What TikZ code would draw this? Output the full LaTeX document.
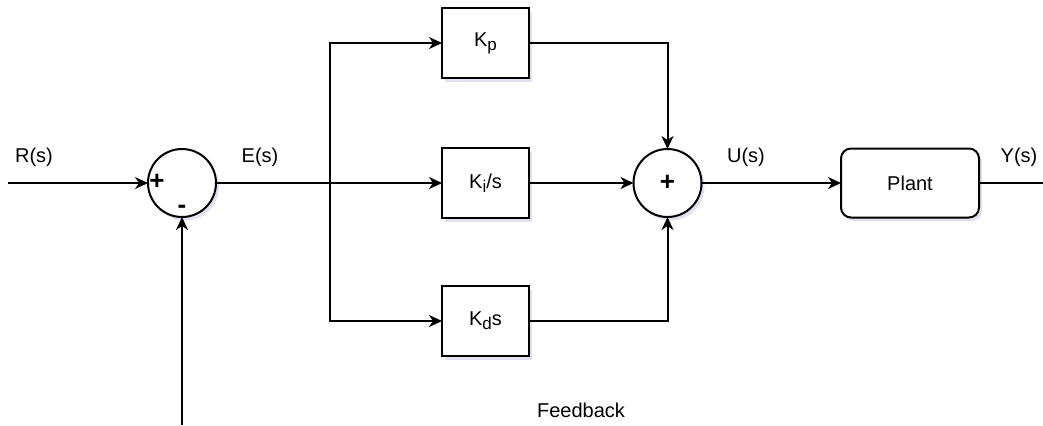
\documentclass[tikz,border=0pt]{standalone}
\usepackage{fontspec}
\setmainfont{Liberation Sans}
\usetikzlibrary{arrows.meta,shadows}
% lowered, slightly reduced subscript
\newcommand{\lowsub}[1]{\raisebox{-2pt}{\fontsize{8.5}{9}\selectfont #1}}
\begin{document}
\begin{tikzpicture}[x=0.5pt,y=-0.5pt,
  line width=1pt,
  font=\fontsize{10}{12}\selectfont,
  arr/.style={-{Stealth[length=6.5pt,width=6pt,inset=2pt]}},
  shade3/.style={drop shadow={shadow xshift=1.5pt,shadow yshift=-1.8pt,opacity=0.18,fill=blue!30!gray}},
  sumnode/.style={circle,draw,fill=white,minimum size=34pt,inner sep=0pt,outer sep=0pt,shade3},
  gainbox/.style={rectangle,draw,fill=white,minimum width=43.5pt,minimum height=35pt,inner sep=0pt,outer sep=0pt,shade3},
  plantbox/.style={rectangle,rounded corners=5pt,draw,fill=white,minimum width=69pt,minimum height=34.5pt,inner sep=0pt,outer sep=0pt,shade3},
  lbl/.style={inner sep=0pt},
  signfont/.style={font=\fontsize{13}{14}\selectfont\bfseries},
  sign/.style={inner sep=0pt,signfont}]
\useasboundingbox (0,0) rectangle (1043,425);

% summing junctions
\node[sumnode] (s1) at (182,183) {};
\node[sumnode,signfont] (s2) at (667.5,183) {+};
\node[sign] (plus1) at (157,182) {+};
\node[sign] (minus1) at (182,209) {-};

% controller branches and plant
\node[gainbox] (kp) at (485.5,43) {K\lowsub{p}};
\node[gainbox] (ki) at (485.5,183) {K\lowsub{i}/s};
\node[gainbox] (kd) at (485.5,321) {K\lowsub{d}s};
\node[plantbox] (plant) at (910,183) {Plant};

% signal labels
\node[lbl] (rs) at (34,157) {R(s)};
\node[lbl] (es) at (260,157) {E(s)};
\node[lbl] (us) at (746,157) {U(s)};
\node[lbl] (ys) at (1019,157) {Y(s)};
\node[lbl] (fb) at (581,410) {Feedback};

% free ends and branch point
\coordinate (rin) at (8,183);
\coordinate (fbin) at (182,425);
\coordinate (br) at (330,183);
\coordinate (yout) at (1043,183);

% connections
\draw[arr] (rin) -- (s1.west);
\draw[arr] (fbin) -- (s1.south);
\draw (s1.east) -- (br);
\draw[arr] (br) |- (kp.west);
\draw[arr] (br) -- (ki.west);
\draw[arr] (br) |- (kd.west);
\draw[arr] (kp.east) -| (s2.north);
\draw[arr] (ki.east) -- (s2.west);
\draw[arr] (kd.east) -| (s2.south);
\draw[arr] (s2.east) -- (plant.west);
\draw (plant.east) -- (yout);
\end{tikzpicture}
\end{document}
